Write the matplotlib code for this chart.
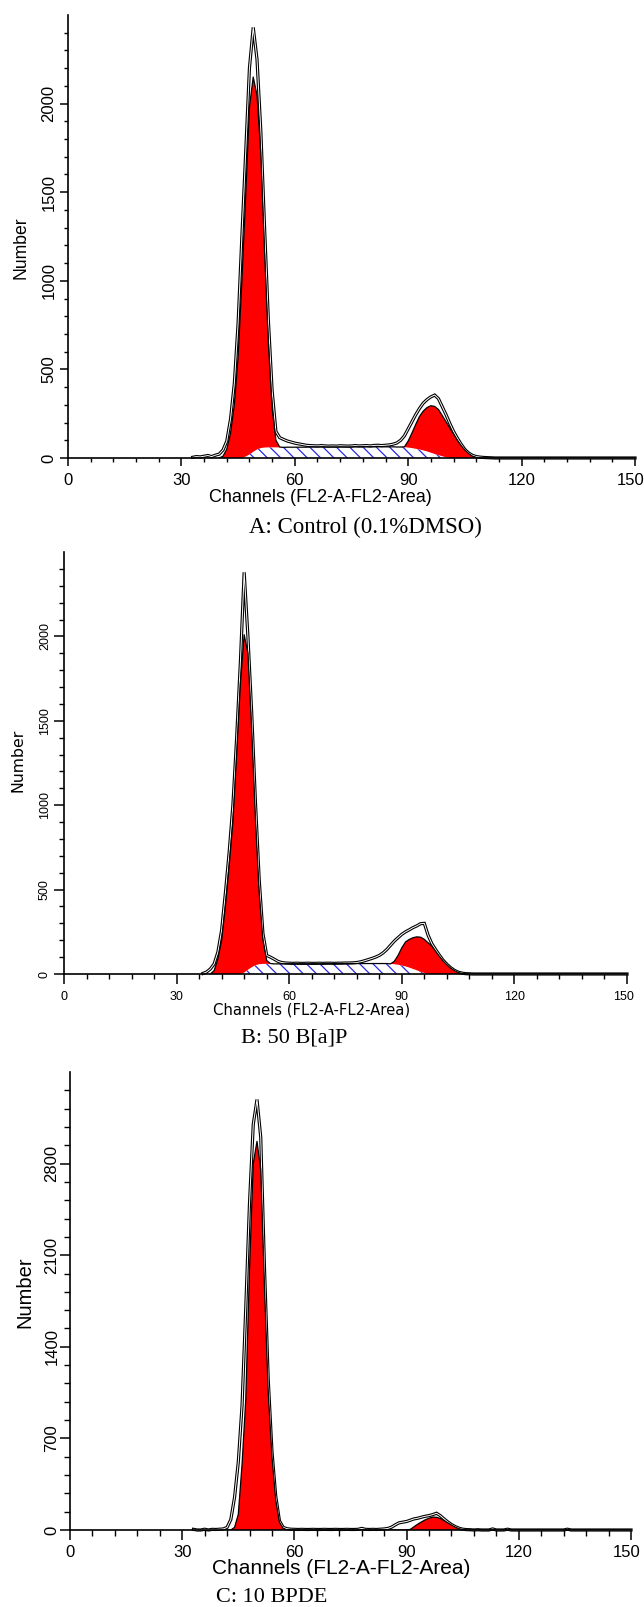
import numpy as np
import matplotlib
matplotlib.use("Agg")
import matplotlib.pyplot as plt
from matplotlib import font_manager
from matplotlib.collections import LineCollection
from matplotlib.transforms import IdentityTransform, ScaledTranslation

# ---------------- data (counts per channel) ----------------
channel_ticks = [0, 30, 60, 90, 120, 150]
n_channels = 150

# Panel A : Control (0.1% DMSO)
a_data_start = 33
a_data = [4, 8, 6, 10, 14, 8, 16, 22, 45, 95,
          220, 420, 760, 1250, 1720, 2200, 2430, 2250, 1850, 1300,
          780, 380, 150, 115, 105, 96, 90, 84, 80, 76,
          72, 70, 69, 68, 70, 68, 67, 68, 67, 69,
          68, 67, 68, 70, 68, 69, 70, 68, 71, 72,
          70, 72, 74, 78, 85, 100, 125, 165, 205, 245,
          280, 310, 330, 345, 355, 335, 290, 245, 195, 150,
          112, 78, 48, 28, 15, 8, 5, 3, 2, 1]
a_s_start = 46
a_s = [0, 8, 20, 35, 48, 56, 59, 60, 60, 60,
       60, 60, 61, 61, 61, 61, 61, 61, 62, 62,
       62, 62, 62, 62, 62, 62, 62, 62, 62, 62,
       63, 63, 63, 63, 63, 63, 63, 63, 63, 63,
       63, 62, 62, 61, 59, 56, 52, 48, 43, 37,
       30, 23, 16, 10, 4, 0]
a_g1_start = 41
a_g1 = [10, 50, 140, 300, 570, 1000, 1470, 1960, 2115, 2000,
        1665, 1100, 590, 220, 40, 2]
a_g2_start = 89
a_g2 = [2, 37, 85, 138, 187, 222, 248, 265, 268, 258,
        230, 201, 170, 135, 100, 70, 45, 25, 10, 3]
a_yticks = [0, 500, 1000, 1500, 2000]

# Panel B : 50 B[a]P
b_data_start = 37
b_data = [3, 12, 30, 60, 130, 260, 480, 720, 1000, 1400,
          1850, 2380, 2000, 1550, 1020, 560, 240, 110, 100, 88,
          75, 68, 65, 64, 63, 64, 63, 63, 64, 63,
          63, 64, 63, 64, 64, 63, 64, 64, 65, 65,
          66, 68, 72, 78, 85, 92, 100, 110, 125, 145,
          170, 195, 215, 235, 250, 262, 275, 285, 298, 300,
          230, 180, 145, 112, 82, 58, 38, 22, 11, 5,
          2, 1]
b_s_start = 47
b_s = [0, 8, 25, 40, 52, 58, 60, 60, 60, 60,
       60, 60, 61, 61, 61, 61, 61, 61, 61, 61,
       61, 61, 61, 62, 62, 62, 62, 62, 62, 62,
       62, 62, 62, 62, 62, 62, 62, 62, 62, 62,
       60, 58, 55, 50, 45, 38, 30, 22, 13, 6,
       0]
b_g1_start = 40
b_g1 = [20, 90, 200, 400, 640, 900, 1300, 1720, 2002, 1875,
        1410, 868, 422, 140, 20, 2]
b_g2_start = 88
b_g2 = [17, 55, 105, 145, 167, 185, 198, 205, 199, 185,
        165, 135, 105, 78, 55, 35, 20, 9, 3]
b_yticks = [0, 500, 1000, 1500, 2000]

# Panel C : 10 BPDE
c_data_start = 33
c_data = [5, 0, 0, 6, 0, 5, 4, 6, 8, 20,
          80, 250, 520, 950, 1700, 2500, 3100, 3290, 3000, 2000,
          1150, 600, 260, 70, 20, 10, 6, 5, 4, 5,
          4, 4, 5, 4, 4, 5, 4, 4, 5, 4,
          4, 5, 4, 4, 5, 12, 5, 4, 5, 4,
          6, 8, 12, 22, 40, 55, 60, 65, 75, 85,
          90, 98, 105, 110, 118, 128, 110, 85, 62, 42,
          26, 14, 6, 3, 2, 0, 2, 0, 0, 0,
          8, 0, 0, 0, 6, 0, 0, 0, 0, 0,
          0, 0, 0, 0, 0, 0, 0, 0, 0, 0,
          6]
c_g1_start = 43
c_g1 = [0, 20, 120, 500, 1000, 2000, 2800, 2970, 2750, 1850,
        1050, 560, 230, 60, 12]
c_g2_start = 91
c_g2 = [5, 25, 45, 62, 78, 90, 99, 97, 88, 72,
        55, 38, 22, 10, 3]
c_yticks = [0, 700, 1400, 2100, 2800]

titles = ["A: Control (0.1%DMSO)", "B: 50 B[a]P", "C: 10 BPDE"]
x_label = "Channels (FL2-A-FL2-Area)"
y_label = "Number"

# ---------------- figure ----------------
W, H = 644, 1607
fig = plt.figure(figsize=(W / 100, H / 100), dpi=100, facecolor="white")

names = {f.name for f in font_manager.fontManager.ttflist}
NARROW = "Liberation Sans Narrow" if "Liberation Sans Narrow" in names else "Liberation Sans"
SANS = "Liberation Sans"
SERIF = "Liberation Serif"
RED = "#ff0000"
BLUE = "#2a2ae6"


def add_ax(left, axis_y, right, top):
    return fig.add_axes([left / W, 1 - axis_y / H, (right - left) / W, (axis_y - top) / H])


def ftext(x, y, s, **kw):
    fig.text(x / W, 1 - y / H, s, ha="center", va="center", **kw)


def full(values, start, end=n_channels):
    x = np.arange(start, end + 1)
    y = np.zeros(len(x))
    y[:len(values)] = values
    return x, y


def on_grid(values, start):
    arr = np.zeros(n_channels + 1)
    if values is not None:
        arr[start:start + len(values)] = values
    return arr


def hatch_region(ax, x, lo, hi, spacing=13.3):
    poly = ax.fill_between(x, lo, hi, facecolor="white",
                           edgecolor="none", zorder=2.0)
    bb = ax.bbox
    h = bb.y1 - bb.y0
    segs = []
    k = bb.x0 - h
    while k < bb.x1:
        segs.append([(k, bb.y1), (k + h, bb.y0)])
        k += spacing
    lc = LineCollection(segs, colors=BLUE, linewidths=0.9,
                        transform=IdentityTransform(), zorder=2.1)
    lc.set_clip_path(poly.get_paths()[0], ax.transData)
    ax.add_collection(lc, autolim=False)


def panel(ax, data, dstart, s, sstart, g1, g1start, g2, g2start,
          ymax, yticks, yminor, tick_font, tick_size, maj_len, min_len,
          xpad, ypad):
    x = np.arange(n_channels + 1)
    S = on_grid(s, sstart)
    G = on_grid(g1, g1start) + on_grid(g2, g2start)
    if s is not None:
        hatch_region(ax, x, np.zeros_like(S), S)
    dx, dy = full(data, dstart)
    ax.plot(dx, dy, color="black", lw=2.3, zorder=2.3, clip_on=False,
            solid_joinstyle="miter")
    ax.plot(dx, dy, color="white", lw=0.7, zorder=2.35, clip_on=False)
    ax.fill_between(x, S, S + G, facecolor=RED, edgecolor="none", zorder=2.5)
    top = S + G
    lo_ch = min(g1start, sstart if s is not None else g1start)
    m = x >= lo_ch - 1
    ax.plot(x[m], top[m], color="black", lw=0.9, zorder=2.6)

    ax.set_xlim(0, n_channels)
    ax.set_ylim(0, ymax)
    for sp in ("top", "right"):
        ax.spines[sp].set_visible(False)
    for sp in ("left", "bottom"):
        ax.spines[sp].set_linewidth(1.2)
        ax.spines[sp].set_zorder(3)
    ax.set_facecolor("none")

    ax.set_xticks(channel_ticks)
    ax.set_xticks(np.arange(0, n_channels + 1, 6), minor=True)
    ax.set_yticks(yticks)
    ax.set_yticks(yminor, minor=True)
    ax.set_xticklabels([str(t) for t in channel_ticks],
                       fontfamily=tick_font, fontsize=tick_size)
    ax.set_yticklabels([str(t) for t in yticks], fontfamily=tick_font,
                       fontsize=tick_size, rotation=90, ha="right",
                       va="center")
    ax.tick_params(which="major", length=maj_len, width=1.1, direction="out")
    ax.tick_params(which="minor", length=min_len, width=1.0, direction="out")
    ax.tick_params(axis="x", which="major", pad=xpad)
    ax.tick_params(axis="y", which="major", pad=ypad)
    last = ax.xaxis.get_major_ticks()[-1].label1
    last.set_transform(last.get_transform() +
                       ScaledTranslation(-4 / 100, 0, fig.dpi_scale_trans))


# Panel A
axA = add_ax(68, 458, 635, 15)
panel(axA, a_data, a_data_start, a_s, a_s_start, a_g1, a_g1_start,
      a_g2, a_g2_start, 2500, a_yticks, np.arange(0, 2401, 100),
      NARROW, 12, 5.8, 2.9, 5.0, 2.5)
ftext(320, 497, x_label, fontfamily=SANS, fontsize=13)
ftext(21, 248, y_label, fontfamily=SANS, fontsize=12.7, rotation=90)
ftext(365, 527, titles[0], fontfamily=SERIF, fontsize=16.5)

# Panel B
axB = add_ax(64, 974, 627, 552)
panel(axB, b_data, b_data_start, b_s, b_s_start, b_g1, b_g1_start,
      b_g2, b_g2_start, 2500, b_yticks, np.arange(0, 2401, 100),
      SANS, 9, 7.2, 3.6, 5.0, 2.2)
ftext(312, 1010, x_label, fontfamily="DejaVu Sans", fontsize=10.7)
ftext(18, 760, y_label, fontfamily="DejaVu Sans", fontsize=11.3, rotation=90)
ftext(294, 1038, titles[1], fontfamily=SERIF, fontsize=16)

# Panel C
axC = add_ax(70, 1530, 631, 1072)
panel(axC, c_data, c_data_start, None, 0, c_g1, c_g1_start,
      c_g2, c_g2_start, 3500, c_yticks, np.arange(0, 3361, 140),
      NARROW, 12, 7.2, 4.0, 3.6, 0.5)
ftext(341, 1568, x_label, fontfamily=SANS, fontsize=15)
ftext(25, 1292, y_label, fontfamily=SANS, fontsize=14.5, rotation=90)
ftext(272, 1597, titles[2], fontfamily=SERIF, fontsize=16)

fig.savefig("out.png", dpi=100, facecolor="white")
